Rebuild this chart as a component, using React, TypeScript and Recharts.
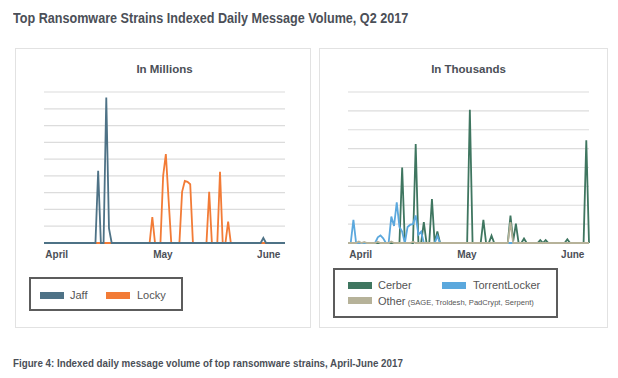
import React from 'react';
import { LineChart, Line, XAxis, YAxis, CartesianGrid } from 'recharts';

// one point per day, index 0..89
const days = Array.from({ length: 90 }, (_, i) => i);

const monthTicks = [4.7, 43.9, 83];
const monthLabels = ['April', 'May', 'June'];

// In Millions (index units)
const jaff = [
  0, 0, 0, 0, 0, 0, 0, 0, 0, 0,
  0, 0, 0, 0, 0, 0, 0, 0, 0, 0,
  4.3, 0, 0, 8.67, 0.87, 0, 0, 0, 0, 0,
  0, 0, 0, 0, 0, 0, 0, 0, 0, 0,
  0, 0, 0, 0, 0, 0, 0, 0, 0, 0,
  0, 0, 0, 0, 0, 0, 0, 0, 0, 0,
  0, 0, 0, 0, 0, 0, 0, 0, 0, 0,
  0, 0, 0, 0, 0, 0, 0, 0, 0, 0,
  0, 0.3, 0, 0, 0, 0, 0, 0, 0, 0,
];
const locky = [
  0, 0, 0, 0, 0, 0, 0, 0, 0, 0,
  0, 0, 0, 0, 0, 0, 0, 0, 0, 0,
  0, 0, 0, 0, 0, 0, 0, 0, 0, 0,
  0, 0, 0, 0, 0, 0, 0, 0, 0, 0,
  1.55, 0, 0, 0, 4.0, 5.3, 2.6, 0, 0, 0,
  0, 3.05, 3.7, 3.65, 3.5, 0, 0, 0, 0, 0,
  0, 3.05, 0, 0, 0, 4.24, 0, 0, 1.27, 0,
  0, 0, 0, 0, 0, 0, 0, 0, 0, 0,
  0, 0, 0, 0, 0, 0, 0, 0, 0, 0,
];

// In Thousands (index units)
const cerber = [
  0, 0, 0, 0, 0, 0, 0, 0, 0, 0,
  0, 0, 0, 0, 0, 0, 0, 0, 0, 0,
  4.0, 0, 0, 0, 0, 5.25, 0, 0, 1.11, 0,
  0, 2.33, 0, 0.61, 0, 0, 0, 0, 0, 0,
  0, 0, 0, 0, 0, 7.06, 0, 0, 0, 0,
  1.23, 0, 0, 0.39, 0, 0, 0, 0, 0, 0,
  1.45, 0.1, 1.02, 0, 0, 0.24, 0, 0, 0, 0,
  0, 0.15, 0, 0.15, 0, 0, 0, 0, 0, 0,
  0, 0.2, 0, 0, 0, 0, 0, 0, 5.44, 0,
];
const torrentLocker = [
  0, 0, 1.23, 0, 0, 0, 0, 0, 0, 0,
  0, 0.3, 0.4, 0.25, 0, 0, 1.4, 0.9, 2.15, 0.85,
  0.6, 0, 0.85, 0.97, 1.0, 1.46, 0.44, 0.6, 0, 0,
  0, 0, 0, 0.38, 0, 0, 0, 0, 0, 0,
  0, 0, 0, 0, 0, 0, 0, 0, 0, 0,
  0, 0, 0, 0, 0, 0, 0, 0, 0, 0,
  0, 0, 0, 0, 0, 0, 0, 0, 0, 0,
  0, 0, 0, 0, 0, 0, 0, 0, 0, 0,
  0, 0, 0, 0, 0, 0, 0, 0, 0, 0,
];
const other = [
  0, 0, 0, 0, 0.08, 0, 0.06, 0, 0, 0,
  0, 0.07, 0, 0, 0, 0, 0.08, 0, 0, 0,
  0, 0, 0, 0, 0.07, 0, 0, 0, 0, 0,
  0, 0, 0, 0, 0, 0, 0, 0, 0, 0,
  0, 0, 0, 0, 0, 0, 0, 0, 0, 0,
  0, 0, 0, 0, 0, 0, 0, 0, 0, 0,
  1.1, 0, 0, 0, 0, 0, 0, 0, 0, 0,
  0, 0, 0, 0, 0, 0, 0, 0, 0, 0,
  0, 0, 0, 0, 0, 0, 0, 0, 0, 0,
];

const millionsData = days.map((i) => ({ i, jaff: jaff[i], locky: locky[i] }));
const thousandsData = days.map((i) => ({
  i,
  cerber: cerber[i],
  torrentLocker: torrentLocker[i],
  other: other[i],
}));

const FONT = '"Liberation Sans", Arial, sans-serif';
const TEXT = '#4b4f57';

const colors = {
  jaff: '#4e7286',
  locky: '#f27b36',
  cerber: '#3f7660',
  torrentLocker: '#5ba8dd',
  other: '#b6b299',
};

function MiniChart({
  data,
  yMax,
  series,
}: {
  data: any[];
  yMax: number;
  series: string[];
}) {
  const yTicks = Array.from({ length: yMax + 1 }, (_, k) => k);
  return (
    <LineChart width={251} height={176} data={data} margin={{ top: 5, right: 5, left: 5, bottom: 0 }}>
      <CartesianGrid vertical={false} stroke="#dcdcdc" strokeWidth={1.2} />
      <XAxis
        type="number"
        dataKey="i"
        domain={[0, 89]}
        ticks={monthTicks}
        tickFormatter={(v: number) => monthLabels[monthTicks.indexOf(v)]}
        axisLine={false}
        tickLine={false}
        height={20}
        interval={0}
        tick={{ fontSize: 10, fontWeight: 'bold', fill: TEXT, fontFamily: FONT }}
      />
      <YAxis hide domain={[0, yMax]} ticks={yTicks} interval={0} />
      {series.map((key) => (
        <Line
          key={key}
          type="linear"
          dataKey={key}
          stroke={(colors as any)[key]}
          strokeWidth={1.8}
          dot={false}
          isAnimationActive={false}
        />
      ))}
    </LineChart>
  );
}

const swatch = (color: string, left: number, top: number) => (
  <div style={{ position: 'absolute', left, top, width: 24, height: 6.5, background: color }} />
);

const label = (text: string, left: number, top: number, size = 11) => (
  <div style={{ position: 'absolute', left, top, fontSize: size, lineHeight: '12px', color: '#555', fontFamily: FONT, whiteSpace: 'nowrap' }}>
    {text}
  </div>
);

export default function App() {
  return (
    <div style={{ position: 'absolute', left: 0, top: 0, width: 618, height: 378, background: '#fff', fontFamily: FONT, overflow: 'hidden' }}>
      <div style={{ position: 'absolute', left: 13, top: 9, fontSize: 14, lineHeight: '18px', fontWeight: 'bold', color: TEXT, whiteSpace: 'nowrap', transform: 'scaleX(0.9)', transformOrigin: 'left center' }}>
        Top Ransomware Strains Indexed Daily Message Volume, Q2 2017
      </div>

      {/* panels */}
      <div style={{ position: 'absolute', left: 15, top: 48, width: 296, height: 280, border: '1.5px solid #e2e2e2', boxSizing: 'border-box' }} />
      <div style={{ position: 'absolute', left: 319, top: 48, width: 289, height: 280, border: '1.5px solid #e2e2e2', boxSizing: 'border-box' }} />

      <div style={{ position: 'absolute', left: 44, width: 241, top: 63, textAlign: 'center', fontSize: 11.5, fontWeight: 'bold', color: TEXT }}>
        In Millions
      </div>
      <div style={{ position: 'absolute', left: 348, width: 241, top: 63, textAlign: 'center', fontSize: 11.5, fontWeight: 'bold', color: TEXT }}>
        In Thousands
      </div>

      <div style={{ position: 'absolute', left: 39, top: 87 }}>
        <MiniChart data={millionsData} yMax={9} series={['locky', 'jaff']} />
      </div>
      <div style={{ position: 'absolute', left: 343, top: 87 }}>
        <MiniChart data={thousandsData} yMax={8} series={['cerber', 'torrentLocker', 'other']} />
      </div>

      {/* left legend */}
      <div style={{ position: 'absolute', left: 29, top: 277, width: 154, height: 34, border: '2px solid #5c5c5c', boxSizing: 'border-box' }} />
      {swatch(colors.jaff, 40, 292)}
      {label('Jaff', 70, 289)}
      {swatch(colors.locky, 106, 292)}
      {label('Locky', 137, 289)}

      {/* right legend */}
      <div style={{ position: 'absolute', left: 333, top: 268, width: 225, height: 50, border: '2px solid #5c5c5c', boxSizing: 'border-box' }} />
      {swatch(colors.cerber, 348, 282)}
      {label('Cerber', 378, 279)}
      {swatch(colors.torrentLocker, 442, 282)}
      {label('TorrentLocker', 473, 279)}
      {swatch(colors.other, 348, 297)}
      <div style={{ position: 'absolute', left: 378, top: 294, lineHeight: '12px', color: '#555', whiteSpace: 'nowrap' }}>
        <span style={{ fontSize: 11 }}>Other</span>
        <span style={{ fontSize: 7.6 }}> (SAGE, Troldesh, PadCrypt, Serpent)</span>
      </div>

      <div style={{ position: 'absolute', left: 13, top: 356, fontSize: 10.5, lineHeight: '14px', fontWeight: 'bold', color: TEXT, whiteSpace: 'nowrap', transform: 'scaleX(0.93)', transformOrigin: 'left center' }}>
        Figure 4: Indexed daily message volume of top ransomware strains, April-June 2017
      </div>
    </div>
  );
}
